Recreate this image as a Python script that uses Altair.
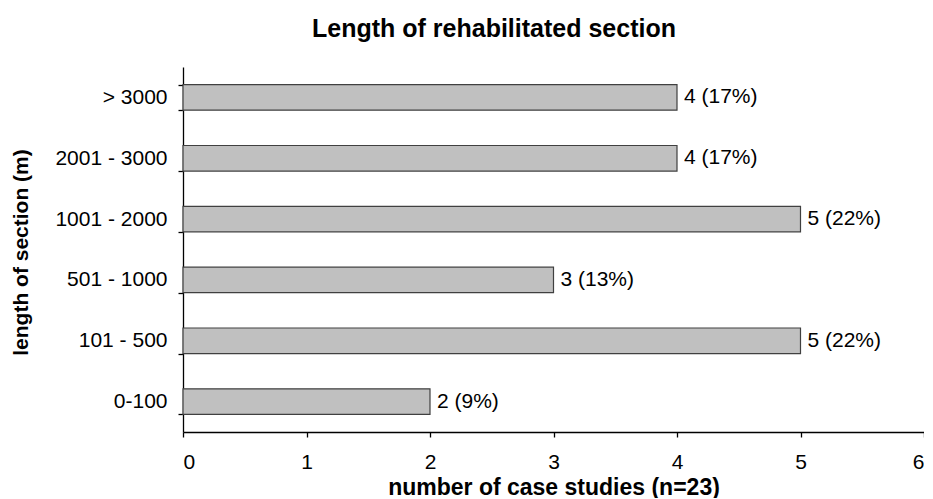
import altair as alt
import pandas as pd

categories = ["> 3000", "2001 - 3000", "1001 - 2000", "501 - 1000", "101 - 500", "0-100"]
counts = [4, 4, 5, 3, 5, 2]
labels = ["4 (17%)", "4 (17%)", "5 (22%)", "3 (13%)", "5 (22%)", "2 (9%)"]
x_ticks = [0, 1, 2, 3, 4, 5, 6]
chart_title = ["Length of rehabilitated section"]

df = pd.DataFrame({"cat": categories, "n": counts, "lab": labels})
title_df = pd.DataFrame({"t": chart_title})

FONT = "Liberation Sans"

y_enc = alt.Y(
    "cat:N",
    sort=categories,
    scale=alt.Scale(paddingInner=0.58, paddingOuter=0.29),
    axis=alt.Axis(
        title="length of section (m)",
        titleFont=FONT, titleFontSize=21, titleFontWeight="bold", titleColor="#000",
        titleX=-162, titleY=185, titleBaseline="middle", titleAngle=-90, titleAlign="center",
        labelFont=FONT, labelFontSize=21, labelColor="#000", labelPadding=11,
        tickBand="extent", tickSize=5, tickColor="#000", domain=True, domainColor="#000",
        domainWidth=1.3, tickWidth=1.3, grid=False,
    ),
)

x_enc = alt.X(
    "n:Q",
    scale=alt.Scale(domain=[0, 6], nice=False),
    axis=alt.Axis(
        title="number of case studies (n=23)",
        titleFont=FONT, titleFontSize=23, titleFontWeight="bold", titleColor="#000",
        titleY=62, titleBaseline="alphabetic",
        labelFont=FONT, labelFontSize=21, labelColor="#000", labelPadding=14,
        values=x_ticks, format="d", tickSize=5, tickColor="#000", domain=True, domainColor="#000",
        domainWidth=1.3, tickWidth=1.3, grid=False,
    ),
)

base = alt.Chart(df).encode(x=x_enc, y=y_enc)

bars = base.mark_bar(color="#c0c0c0", stroke="#404040", strokeWidth=1.2)

text = base.mark_text(
    align="left", baseline="middle", dx=7, font=FONT, fontSize=21, color="#000"
).encode(text="lab:N")

title_mark = alt.Chart(title_df).mark_text(
    align="center", baseline="alphabetic", font=FONT, fontSize=25, fontWeight="bold", color="#000"
).encode(text="t:N", x=alt.value(311), y=alt.value(-30))

chart = (
    (bars + text + title_mark)
    .properties(
        width=741,
        height=365,
        autosize=alt.AutoSizeParams(type="none"),
        padding={"left": 175, "top": 59, "right": 0, "bottom": 66},
    )
    .configure_view(stroke=None)
)

chart.save("out.html", embed_options={"renderer": "svg", "actions": False})
